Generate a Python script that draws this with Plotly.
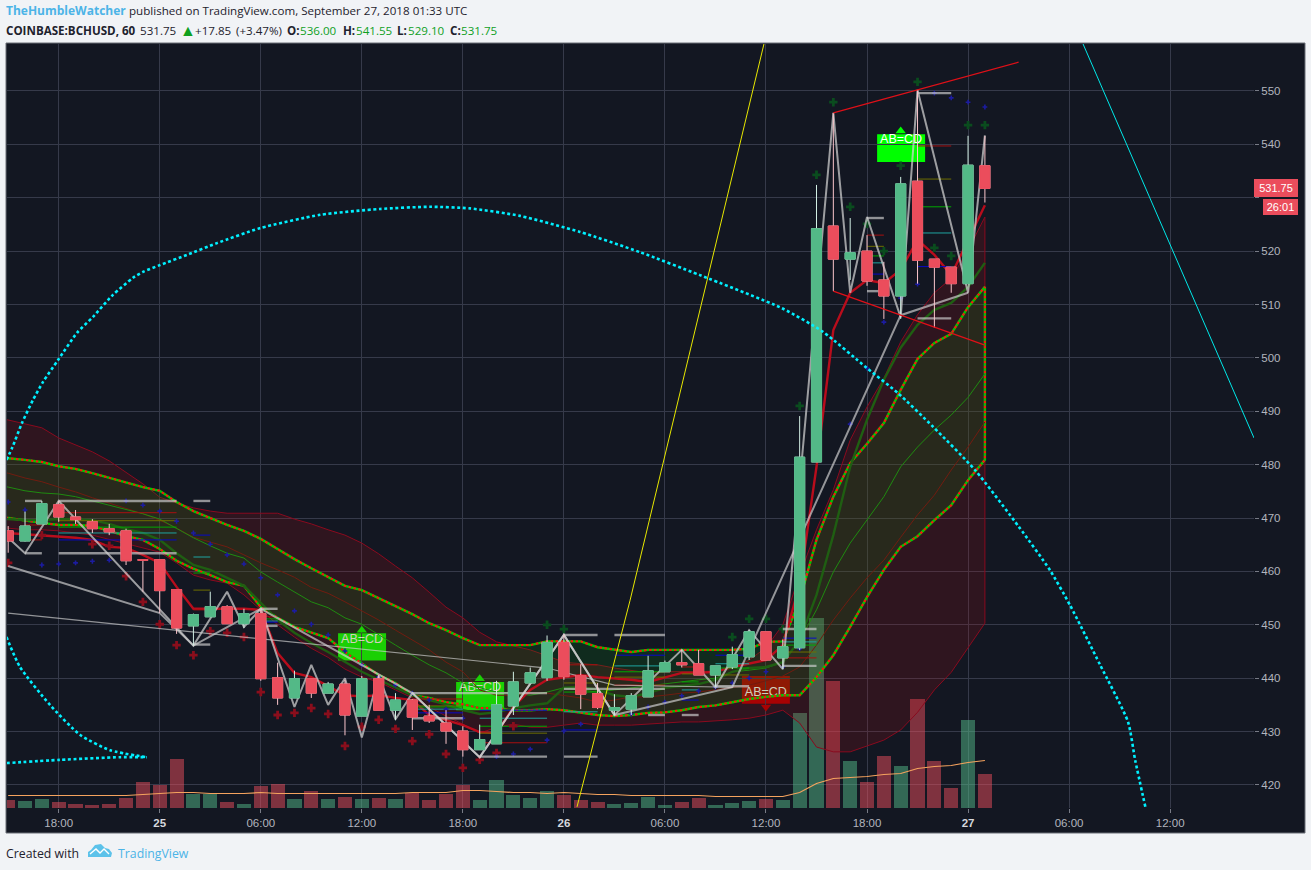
import plotly.graph_objects as go

# ---------- time index (hours since 24 Sep 18:00) ----------
bar_hour = list(range(-3, 56))
band_hour = list(range(-4, 56))
tick_hours = [0, 6, 12, 18, 24, 30, 36, 42, 48, 54, 60, 66]
BOLD = '<span style="color:#D6D8DE"><b>%s</b></span>'
tick_labels = ["18:00", BOLD % "25", "06:00", "12:00", "18:00", BOLD % "26", "06:00", "12:00", "18:00", BOLD % "27", "06:00", "12:00"]
price_ticks = [420, 430, 440, 450, 460, 470, 480, 490, 500, 510, 520, 530, 540, 550]
# 530 keeps its grid line; its label is hidden behind the last-price tag, as in the reference
price_labels = ["420", "430", "440", "450", "460", "470", "480", "490", "500", "510", "520", "", "540", "550"]

# ---------- OHLC ----------
opens = [467.6,465.7,468.9,472.5,470.2,469.3,468.0,467.6,462.2,462.2,456.6,449.8,451.5,453.4,450.2,452.1,440.1,436.3,439.9,437.2,438.9,432.9,439.9,434.0,435.9,432.9,431.6,430.1,426.6,427.7,434.8,439.1,440.1,446.7,440.5,437.1,434.0,434.2,436.5,441.2,442.9,442.7,440.6,442.1,444.0,448.7,443.8,445.7,480.5,524.7,518.5,520.0,514.6,511.6,533.1,518.5,517.0,513.9,536.0]
highs = [468.5,471.2,473.2,473.2,471.5,469.8,468.9,468.0,462.2,462.2,456.6,452.1,456.2,453.7,453.0,452.8,442.9,441.4,439.9,439.3,439.7,440.4,440.6,437.2,436.1,435.0,434.0,431.0,431.3,439.5,441.2,442.0,448.0,448.2,442.6,439.1,437.0,437.2,444.2,443.3,445.3,445.3,442.3,445.9,449.0,448.7,447.2,489.1,532.4,545.9,526.2,523.0,518.0,533.9,550.2,518.5,517.0,541.6,541.55]
lows = [463.5,465.6,468.9,469.3,468.9,467.2,466.8,461.2,456.2,452.2,448.3,446.1,451.5,450.2,449.4,439.5,435.0,436.3,436.3,437.2,429.3,432.9,434.0,432.1,430.3,431.6,427.7,425.3,426.6,427.7,433.1,439.1,439.5,439.7,434.2,434.2,433.1,433.1,436.5,441.2,442.0,440.6,438.4,441.7,443.4,443.4,441.7,445.3,480.5,512.5,514.6,513.5,507.3,507.3,513.9,505.6,512.2,513.9,529.10]
closes = [465.7,468.5,472.7,470.2,469.7,468.0,467.4,462.0,462.1,456.4,449.4,451.9,453.4,450.2,452.1,439.9,436.3,439.9,437.2,438.9,433.1,439.9,434.0,435.9,432.7,432.0,430.1,426.6,428.5,435.0,439.3,441.0,446.7,440.3,437.0,434.5,434.5,436.7,441.4,442.9,442.5,440.6,442.3,444.4,448.7,443.4,445.9,481.4,524.2,518.5,519.7,514.4,511.6,532.6,518.3,517.0,513.9,536.1,531.75]
volume = [8,7,9,6,4,3,4,10,26,23,49,14,14,6,4,22,24,9,17,9,11,9,10,9,15,8,14,23,8,28,13,10,17,13,8,6,4,5,11,3,6,10,3,5,7,9,8,95,190,127,47,26,52,42,109,47,20,88,34]
volume_ma = [12,12,12,12,12,12,12,12,13,14,15,15,14,14,14,15,14,14,14,14,14,14,14,14,15,15,15,17,17,16,15,15,14,15,14,13,13,12,12,12,12,12,11,11,11,11,11,15,24,29,30,31,33,34,39,41,42,45,47]

# ---------- band indicators ----------
upper_band = [481.8,481.2,480.9,480.5,479.7,479.2,478.4,477.5,476.6,475.8,475.1,473.0,471.3,470.0,468.7,467.6,466.1,464.2,462.3,460.6,458.9,457.3,456.5,455.0,453.5,452.0,450.3,449.0,447.5,446.2,446.2,446.2,446.2,446.9,446.9,446.9,445.8,445.3,444.9,445.3,445.3,445.3,445.3,445.3,445.3,445.5,446.8,446.9,454.6,465.9,474.0,480.3,483.9,487.8,494.0,499.8,502.8,504.5,509.5,513.3]
lower_band = [470.4,470.0,469.6,469.1,468.7,468.7,468.5,467.6,466.6,465.9,464.2,462.0,460.5,459.3,458.0,457.3,453.3,451.3,449.6,448.5,447.5,444.9,442.7,440.6,439.1,436.8,436.3,435.5,435.1,434.4,434.4,434.0,434.0,434.2,434.0,433.5,433.1,432.9,433.1,433.5,433.6,434.0,434.6,434.9,435.5,436.1,436.5,436.8,436.8,440.2,444.3,449.6,455.2,460.3,464.6,466.6,469.6,472.4,477.1,480.9]
upper_outer = [489.1,488.4,487.6,486.9,485.0,483.7,482.4,480.7,478.6,476.4,473.9,472.8,471.9,471.3,470.9,470.9,470.9,470.9,469.8,468.9,467.8,466.8,465.3,463.3,461.0,458.8,456.1,453.3,451.3,448.6,446.8,446.1,445.3,444.2,443.0,442.7,442.5,441.9,441.5,441.0,441.2,441.2,441.2,441.3,441.9,443.4,445.7,450.0,459.3,467.8,475.3,484.6,490.8,496.2,503.0,508.1,512.2,514.9,520.2,526.4]
lower_outer = [468.7,468.1,467.8,467.8,467.6,467.2,466.8,466.1,465.3,464.4,463.6,461.6,459.3,458.4,457.8,455.6,452.8,450.0,447.7,445.6,443.9,441.7,440.2,439.3,437.8,436.3,434.6,432.9,431.4,429.7,430.8,431.4,430.8,430.8,431.2,431.6,431.2,431.2,431.2,431.4,431.6,431.8,431.8,432.0,432.2,432.5,433.1,434.0,431.6,427.1,426.2,426.2,427.3,428.4,430.3,433.6,437.8,441.1,445.6,450.3]
mid_red = [479.0,478.4,477.5,476.8,475.8,474.9,473.8,472.8,471.9,470.8,469.6,468.1,466.4,465.5,464.6,463.1,461.6,460.3,458.9,457.0,455.9,454.3,452.6,450.9,449.0,447.1,445.3,443.0,441.2,437.8,436.8,436.8,437.2,437.2,436.8,436.3,435.5,435.9,436.5,436.5,436.8,437.2,437.4,437.8,438.2,438.7,439.5,440.4,442.1,446.2,450.9,455.0,458.8,462.1,466.4,470.6,474.3,479.0,483.3,488.0]
mid_green = [476.2,475.8,475.1,474.7,474.5,474.0,473.2,472.4,471.5,470.8,469.8,468.1,466.3,464.8,463.4,462.5,459.9,458.0,456.1,454.3,453.2,451.3,450.1,448.1,446.2,444.3,442.5,441.0,439.1,438.2,437.4,437.2,436.8,437.4,438.2,437.8,437.4,437.8,438.2,438.5,438.9,439.3,439.7,440.0,441.2,441.5,441.9,443.0,447.1,452.8,459.9,465.3,469.6,474.0,479.6,483.3,486.5,489.3,492.6,497.0]
thick_green = [470.0,469.8,469.6,469.6,469.8,469.8,469.6,468.9,467.9,467.2,465.9,463.4,461.2,460.3,458.8,457.3,454.1,450.9,448.5,446.6,444.9,443.0,441.2,439.7,438.2,436.8,435.9,435.1,434.0,433.3,433.6,434.4,434.9,435.3,438.2,438.4,437.8,436.8,436.5,437.2,438.2,438.5,438.9,439.7,441.2,441.9,442.1,443.0,447.1,455.6,466.8,479.6,488.4,495.9,501.9,506.2,509.0,510.3,513.3,517.8]
thick_red = [467.4,467.2,467.0,466.8,466.6,466.3,465.9,464.6,464.4,463.1,461.6,457.1,453.0,453.0,453.1,453.0,452.8,444.7,441.0,440.2,438.5,436.8,436.6,436.8,436.3,435.9,433.1,432.2,431.2,429.9,429.7,434.6,437.8,439.7,440.2,440.6,440.2,440.0,439.7,439.3,440.2,441.0,441.0,441.2,442.1,442.8,443.4,446.2,457.6,479.6,505.2,512.2,514.6,514.0,516.5,522.1,519.3,515.5,522.1,528.6]

# ---------- zigzags ----------
zig_a_hour = [-3,-2,0,8,10,11,12,14,15,16,17,18,19,20,21,25,30,33,37,39,41,43,46,47,48,50,51,54,55]
zig_a_price = [466.3,463.4,473.2,446.1,456.2,449.6,453.0,434.6,442.5,435.0,440.0,428.9,440.4,432.3,437.2,425.2,448.1,433.1,445.3,438.3,449.0,441.7,545.9,512.2,526.4,507.6,550.2,512.2,541.7]
zig_b_hour = [-3,6,8,12,21,25,30,33,40,50,54]
zig_b_price = [461.0,452.2,446.1,453.0,437.2,425.2,448.1,433.1,438.3,508.0,512.2]
zig_c_hour = [-3,29,33,40]
zig_c_price = [452.2,441.9,438.7,438.3]

# ---------- horizontal levels: (price, first hour, last hour) ----------
white_levels = [(473.2,-2,-1),(473.2,0,7),(473.2,8,9),(463.4,-2,-1),(463.4,0,7),(446.3,8,9),(453.0,12,13),(449.8,12,13),(437.2,21,29),(432.5,21,24),(425.3,25,29),(448.1,30,32),(448.1,33,36),(425.3,30,32),(433.1,35,36),(433.1,37,38),(438.5,39,41),(449.2,43,45),(442.3,43,45),(438.0,30,36),(526.2,48,49),(512.5,48,49),(549.6,51,53),(507.4,51,53)]
red_levels = [(471.0,0,7),(468.7,-2,-1),(465.9,-2,-1),(452.8,8,9),(451.5,12,13),(436.1,21,24),(427.9,25,29),(442.5,30,32),(438.7,33,36),(442.1,37,38),(443.8,43,45),(523.0,48,49),(539.7,51,53)]
olive_levels = [(469.5,0,7),(456.5,8,9),(434.8,21,24),(429.7,25,29),(439.1,30,32),(440.2,33,36),(440.8,37,38),(440.6,39,41),(444.9,43,45),(520.9,48,49),(533.5,51,53)]
green_levels = [(468.3,0,7),(459.7,8,9),(451.1,12,13),(434.6,21,24),(431.0,25,29),(437.4,30,32),(441.2,33,36),(439.3,37,38),(441.9,39,41),(446.2,43,45),(519.1,48,49),(528.3,51,53)]
teal_levels = [(467.2,0,7),(462.7,8,9),(450.7,12,13),(434.2,21,24),(432.5,25,29),(433.7,30,32),(442.3,33,36),(437.8,37,38),(442.7,39,41),(446.8,43,45),(517.8,48,49),(523.4,51,53)]
blue_levels = [(465.9,0,7),(466.8,8,9),(450.5,12,13),(433.5,21,24),(434.0,25,29),(430.3,30,32),(444.3,33,36),(435.9,37,38),(444.3,39,41),(447.5,43,45),(515.7,48,49),(517.1,51,53)]

# ---------- small markers ----------
green_mark_hour = [29,30,40,41,42,43,44,45,46,47,48,49,50,51,52,53,54,55]
green_mark_price = [450.0,449.2,447.7,451.1,451.1,449.2,491.0,534.3,547.9,528.3,525.1,520.0,536.0,551.7,520.6,519.1,543.6,543.6]
red_mark_hour = [-3,-1,2,3,4,5,6,7,8,9,10,11,12,13,14,15,16,17,18,19,20,21,22,23,24,25,26,27]
red_mark_price = [461.6,466.8,465.1,464.8,459.1,454.3,450.1,446.2,444.3,448.8,448.5,447.7,437.4,433.1,433.5,434.4,433.3,427.3,430.9,432.2,430.5,428.2,429.5,425.8,423.2,424.7,426.0,431.0]
blue_mark_hour = [-3,-2,-1,0,1,2,3,4,5,6,7,8,9,10,11,12,13,14,15,16,17,18,19,20,21,22,23,24,26,27,28,29,30,31,34,35,36,37,38,39,40,41,42,43,44,47,48,49,50,51,52,53,54,55]
blue_mark_price = [473.0,471.5,461.2,461.4,461.6,461.9,462.1,473.2,472.4,471.3,469.4,467.2,465.1,463.1,461.4,458.8,455.6,452.6,450.1,448.1,445.1,442.5,440.2,438.7,437.2,435.9,434.2,432.5,425.3,425.8,426.7,428.4,430.1,431.4,433.3,434.6,435.5,436.7,437.6,438.3,439.1,440.0,441.2,442.1,445.5,487.6,498.1,506.7,511.2,513.8,549.6,548.7,547.9,547.0]

# ---------- drawings ----------
channel_top_hour = [46, 51, 57]
channel_top_price = [545.9, 550.2, 555.4]
channel_low_hour = [46, 55]
channel_low_price = [512.5, 502.4]
yellow_hour = [30.78, 33.93, 41.88]
yellow_price = [415.9, 454.6, 558.8]
cyan_hour = [60.83, 70.98]
cyan_price = [558.8, 485.0]
arc_hour = [-3.1,-2.77,-2.18,-1.53,-0.93,-0.04,1.09,2.04,3.22,4.41,5.0,6.02,7.62,9.4,11.95,15.52,19.08,22.05,24.42,27.39,30.95,34.52,38.08,42.95,45.38,47.99,49.84,51.92,54.41,57.03,58.87,60.05,61.84,63.5,63.92,64.57]
arc_price = [480.9,483.1,487.8,492.1,495.5,499.6,504.7,507.7,511.8,515.0,516.1,517.4,519.3,521.5,524.3,526.8,527.9,528.3,528.0,526.6,523.6,519.8,515.5,509.3,504.9,498.1,493.4,487.1,479.0,468.3,460.2,453.7,442.5,431.8,424.7,415.3]
arc2_hour = [-3.1,-2.3,-0.52,1.26,3.05,5.24]
arc2_price = [447.7,442.1,435.0,429.4,426.5,425.2]
arc3_hour = [-3.1,0.08,3.64,5.24]
arc3_price = [424.1,424.7,425.2,425.2]

# ---------- AB=CD pattern labels ----------
abcd_label = ["AB=CD", "AB=CD", "AB=CD", "AB=CD"]
abcd_left = [16.59, 23.6, 40.57, 48.6]
abcd_right = [19.44, 26.45, 43.42, 51.45]
abcd_top = [448.4, 439.3, 440.4, 541.9]
abcd_bottom = [443.3, 434.0, 435.2, 536.7]
abcd_text_price = [447.2, 438.2, 437.3, 540.8]
abcd_tip_hour = [18, 25, 42, 50]
abcd_tip_price = [449.0, 439.9, 434.6, 542.5]
abcd_colors = ["#00ff00", "#00ff00", "#a30000", "#00ff00"]
abcd_symbols = ["triangle-up", "triangle-up", "triangle-down", "triangle-up"]

# ---------- header quote tokens ----------
quote_label = ["COINBASE:BCHUSD, 60", "531.75", "▲", "+17.85", "(+3.47%)", "O:", "536.00", "H:", "541.55", "L:", "529.10", "C:", "531.75"]
quote_left = [6, 140, 180, 195, 236, 287, 300, 343, 356, 397, 408, 450, 461]
quote_kind = ["bold", "plain", "green", "plain", "plain", "bold", "green", "bold", "green", "bold", "green", "bold", "green"]

BG = "#131722"
PAGE = "#F1F3F6"
GRID = "#363A4A"
UP = "#53B987"
DOWN = "#EB4D5C"
TXT = "#B2B5BE"
W, H = 1311, 870
L, R, T, B = 7, 1254, 44, 808


def px(x):
    return (x - L) / (R - L)


def py(y):
    return (B - y) / (B - T)


def level_xy(levels):
    xs, ys = [], []
    for price, a, b in levels:
        xs += [a, b, None]
        ys += [price, price, None]
    return xs, ys


fig = go.Figure()

# pattern label text goes below the band fills, so it dims with them
fig.add_trace(go.Scatter(x=[(a + b) / 2 for a, b in zip(abcd_left, abcd_right)], y=abcd_text_price, mode="text",
                         text=abcd_label, textposition="middle center", zorder=0,
                         textfont=dict(family="Liberation Sans", size=12.5, color="#ffffff")))
fig.add_trace(go.Scatter(x=abcd_tip_hour, y=abcd_tip_price, mode="markers", zorder=0,
                         marker=dict(size=9, symbol=abcd_symbols, color=abcd_colors)))

# band fills and outlines
fig.add_trace(go.Scatter(x=band_hour + band_hour[::-1], y=upper_outer + lower_outer[::-1], mode="lines", fill="toself",
                         fillcolor="rgba(200,15,20,0.155)", line=dict(color="#8A0A1E", width=1), zorder=1))
fig.add_trace(go.Scatter(x=band_hour + band_hour[::-1], y=upper_band + lower_band[::-1], mode="lines", fill="toself",
                         fillcolor="rgba(0,160,15,0.15)", line=dict(color="#00C800", width=2.4), zorder=1))
fig.add_trace(go.Scatter(x=band_hour + band_hour[::-1], y=upper_band + lower_band[::-1], mode="lines",
                         line=dict(color="#FF1010", width=2, dash="2.5px,2.5px"), zorder=1))
fig.add_trace(go.Scatter(x=band_hour, y=mid_red, mode="lines", line=dict(color="#701C10", width=1), zorder=1))
fig.add_trace(go.Scatter(x=band_hour, y=mid_green, mode="lines", line=dict(color="#1F8A10", width=1), zorder=1))
fig.add_trace(go.Scatter(x=band_hour, y=thick_green, mode="lines", line=dict(color="#1F5E12", width=2.4), zorder=1))
fig.add_trace(go.Scatter(x=band_hour, y=thick_red, mode="lines", line=dict(color="#B80D1C", width=2.4), zorder=1))

# coloured fib levels
for levels, color in [(red_levels, "#A81010"), (olive_levels, "#6E6E00"), (green_levels, "#00A800"),
                      (teal_levels, "#1FA5A0"), (blue_levels, "#0808C8")]:
    xs, ys = level_xy(levels)
    fig.add_trace(go.Scatter(x=xs, y=ys, mode="lines", line=dict(color=color, width=1), zorder=2))

# markers
fig.add_trace(go.Scatter(x=green_mark_hour, y=green_mark_price, mode="markers", zorder=2,
                         marker=dict(symbol="cross", size=7, color="#0A4C1E", line=dict(width=0))))
fig.add_trace(go.Scatter(x=red_mark_hour, y=red_mark_price, mode="markers", zorder=2,
                         marker=dict(symbol="cross", size=7, color="#8A0E1C", line=dict(width=0))))
fig.add_trace(go.Scatter(x=blue_mark_hour, y=blue_mark_price, mode="markers", zorder=2,
                         marker=dict(symbol="cross", size=4, color="#1C1CA0", line=dict(width=0))))

# zigzags and white levels sit behind the candles
xs, ys = level_xy(white_levels)
fig.add_trace(go.Scatter(x=xs, y=ys, mode="lines", line=dict(color="rgba(205,205,205,0.68)", width=2.4), zorder=2))
fig.add_trace(go.Scatter(x=zig_c_hour, y=zig_c_price, mode="lines", line=dict(color="rgba(215,215,215,0.65)", width=1.2), zorder=2))
fig.add_trace(go.Scatter(x=zig_b_hour, y=zig_b_price, mode="lines", line=dict(color="rgba(210,210,210,0.68)", width=2), zorder=2))
fig.add_trace(go.Scatter(x=zig_a_hour, y=zig_a_price, mode="lines", line=dict(color="rgba(210,210,210,0.72)", width=2), zorder=2))

# candles: wicks first, then bodies
fig.add_trace(go.Candlestick(x=bar_hour, open=opens, high=highs, low=lows, close=closes, zorder=3, whiskerwidth=0,
                             increasing=dict(line=dict(color="#D2EFE4", width=1), fillcolor="rgba(0,0,0,0)"),
                             decreasing=dict(line=dict(color="#FBC6CC", width=1), fillcolor="rgba(0,0,0,0)")))
fig.add_trace(go.Candlestick(x=bar_hour, open=opens, close=closes, zorder=3, whiskerwidth=0,
                             high=[max(o, c) for o, c in zip(opens, closes)],
                             low=[min(o, c) for o, c in zip(opens, closes)],
                             increasing=dict(line=dict(color=UP, width=1), fillcolor=UP),
                             decreasing=dict(line=dict(color=DOWN, width=1), fillcolor=DOWN)))

# drawings
for xs, ys in [(channel_top_hour, channel_top_price), (channel_low_hour, channel_low_price)]:
    fig.add_trace(go.Scatter(x=xs, y=ys, mode="lines", line=dict(color="#E01018", width=1.2), zorder=4))
fig.add_trace(go.Scatter(x=yellow_hour, y=yellow_price, mode="lines", line=dict(color="#E8E800", width=1), zorder=4))
fig.add_trace(go.Scatter(x=cyan_hour, y=cyan_price, mode="lines", line=dict(color="#00E8E8", width=1), zorder=4))
for xs, ys in [(arc_hour, arc_price), (arc2_hour, arc2_price), (arc3_hour, arc3_price)]:
    fig.add_trace(go.Scatter(x=xs, y=ys, mode="lines", line=dict(color="#00F0FF", width=2.6, dash="3px,2.6px", shape="spline", smoothing=0.6), zorder=4))

# volume
fig.add_trace(go.Bar(x=bar_hour, y=volume, width=0.84, yaxis="y2", marker_line_width=0,
                     marker_color=["rgba(83,185,135,0.5)" if c >= o else "rgba(235,77,92,0.5)" for o, c in zip(opens, closes)]))
fig.add_trace(go.Scatter(x=bar_hour, y=volume_ma, mode="lines", yaxis="y2", line=dict(color="#F5A35E", width=1.2)))

shapes = [
    dict(type="rect", xref="paper", yref="paper", layer="below", x0=px(6), x1=px(1305), y0=py(43), y1=py(833),
         fillcolor=BG, line=dict(color="#6B6E76", width=1)),
]
for a, b, t, u, c in zip(abcd_left, abcd_right, abcd_top, abcd_bottom, abcd_colors):
    shapes.append(dict(type="rect", xref="x", yref="y", layer="below", x0=a, x1=b, y0=u, y1=t, fillcolor=c, line=dict(width=0)))


def pth(points, close=True):
    s = "M " + " L ".join(f"{px(a):.5f} {py(b):.5f}" for a, b in points)
    return s + (" Z" if close else "")


cloud = [(88, 857), (88, 852), (91, 850), (95, 845), (101, 844), (105, 848), (109, 849), (112, 853), (111, 857)]
swoosh = [(90, 854), (96, 849), (100, 853), (104, 849), (109, 854)]
shapes.append(dict(type="path", xref="paper", yref="paper", path=pth(cloud), fillcolor="#5CC2EA", line=dict(width=0)))
shapes.append(dict(type="path", xref="paper", yref="paper", path=pth(swoosh, False), line=dict(color="#FFFFFF", width=1.4)))

HF = "Open Sans"
DARK = "#1E222D"
LINK = "#4CB4E7"
VAL = "#0FA01E"


def note(text, left, top, size=11.6, color=DARK, bold=False, family=HF):
    label = f"<b>{text}</b>" if bold else text
    return dict(xref="paper", yref="paper", x=px(left), y=py(top), xanchor="left", yanchor="middle", showarrow=False,
                borderpad=0, borderwidth=0, font=dict(family=family, size=size, color=color), text=label)


annots = [
    note("TheHumbleWatcher", 6, 11, size=12, color=LINK, bold=True),
    note("published on TradingView.com, September 27, 2018 01:33 UTC", 129, 11),
    note("Created with", 6, 853, size=12.3),
    note("TradingView", 118, 853, size=12.3, color=LINK),
    dict(xref="paper", yref="y", x=px(1254), y=531.75, xanchor="left", yanchor="middle", showarrow=False,
         width=44, height=18, borderpad=0, borderwidth=0, bgcolor=DOWN,
         font=dict(family="Liberation Sans", size=11, color="#FFFFFF"), text="531.75"),
    dict(xref="paper", yref="paper", x=px(1263), y=py(207), xanchor="left", yanchor="middle", showarrow=False,
         width=35, height=16, borderpad=0, borderwidth=0, bgcolor=DOWN,
         font=dict(family="Liberation Sans", size=11, color="#FFFFFF"), text="26:01"),
]
for label, left, kind in zip(quote_label, quote_left, quote_kind):
    annots.append(note(label, left, 30, color=VAL if kind == "green" else DARK, bold=kind == "bold",
                       size=16 if label == "▲" else 11.6))

fig.update_layout(
    width=W, height=H, autosize=False,
    margin=dict(l=L, r=W - R, t=T, b=H - B, pad=0),
    paper_bgcolor=PAGE, plot_bgcolor=BG, showlegend=False, hovermode=False,
    boxmode="overlay", boxgap=0.4, boxgroupgap=0, bargap=0, barmode="overlay",
    font=dict(family="Liberation Sans", size=11, color=TXT),
    shapes=shapes, annotations=annots,
    xaxis=dict(range=[-3.07, 70.98], tickmode="array", tickvals=tick_hours, ticktext=tick_labels,
               showgrid=True, gridcolor=GRID, gridwidth=1, zeroline=False, rangeslider=dict(visible=False),
               ticks="outside", ticklen=4, tickcolor="#787B86", showline=True, linecolor="#787B86", linewidth=1,
               tickfont=dict(family="Liberation Sans", size=11.5, color=TXT)),
    yaxis=dict(range=[415.68, 558.8], side="right", tickmode="array", tickvals=price_ticks, ticktext=price_labels,
               showgrid=True, gridcolor=GRID, gridwidth=1, zeroline=False,
               ticks="outside", ticklen=4, tickcolor="#787B86", showline=True, linecolor="#787B86", linewidth=1,
               tickfont=dict(family="Liberation Sans", size=11.5, color=TXT)),
    yaxis2=dict(range=[-0.5, 763.5], overlaying="y", visible=False, showgrid=False, fixedrange=True),
)

fig.write_html("out.html", config=dict(displayModeBar=False),
               post_script="document.body.style.margin='0';document.body.style.background='#F1F3F6';")
